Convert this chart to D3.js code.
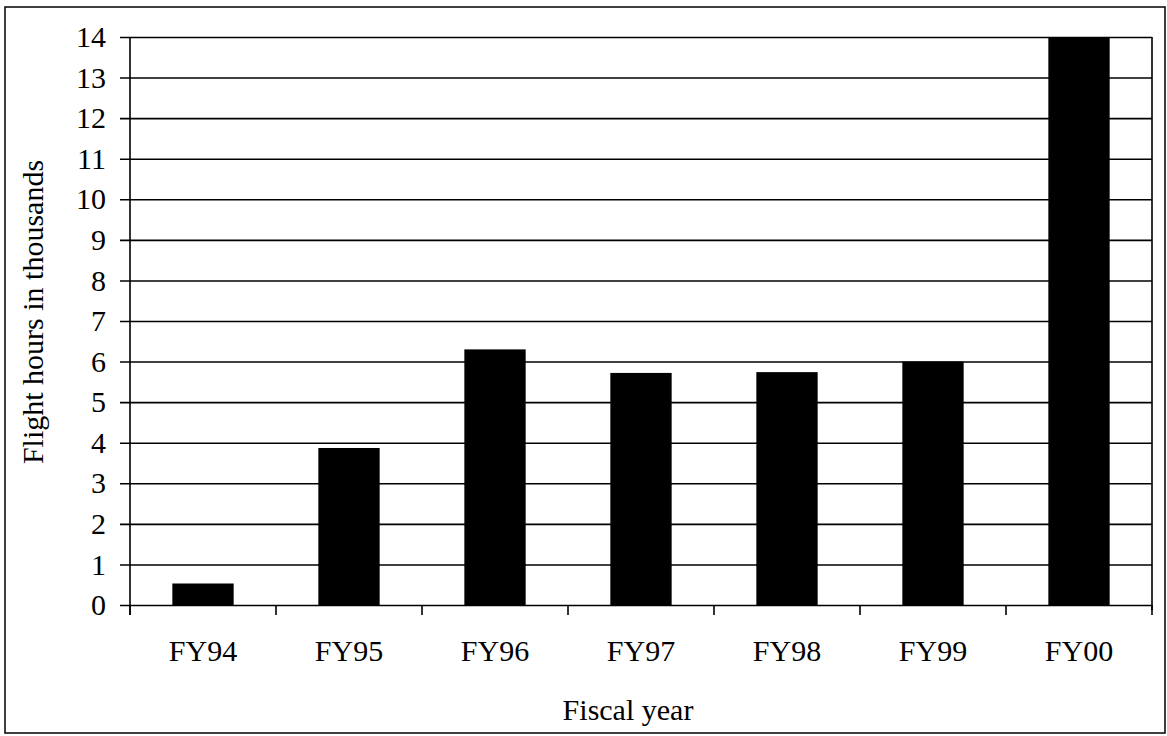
<!DOCTYPE html>
<html lang="en">
<head>
	<meta charset="UTF-8">
	<title>Flight hours</title>
	<style type="text/css">
		body { margin: 0; background: #fff; }
		svg { display: block; }
		text { font-family: "Liberation Serif", "Times New Roman", serif; fill: #000; }
	</style>
</head>
<body>
	<script type="text/javascript" src="https://cdn.jsdelivr.net/npm/d3@7/dist/d3.min.js"></script>
	<script type="text/javascript">
		var years = ['FY94', 'FY95', 'FY96', 'FY97', 'FY98', 'FY99', 'FY00'];
		var hours = [0.53, 3.87, 6.3, 5.72, 5.74, 6.0, 14.0];
		var yTicks = [0, 1, 2, 3, 4, 5, 6, 7, 8, 9, 10, 11, 12, 13, 14];

		var w = 1167;
		var h = 736;
		var plot = {left: 130, right: 1152, top: 37, bottom: 605};

		var svg = d3.select('body')
					.append('svg')
					.attr('width', w)
					.attr('height', h);

		// outer frame
		svg.append('rect')
			.attr('x', 5)
			.attr('y', 7)
			.attr('width', 1160)
			.attr('height', 726)
			.attr('fill', '#fff')
			.attr('stroke', '#000')
			.attr('stroke-width', 1.5);

		var x = d3.scaleBand()
					.domain(years)
					.range([plot.left, plot.right])
					.paddingInner(0.58)
					.paddingOuter(0.29);

		var y = d3.scaleLinear()
					.domain([0, 14])
					.range([plot.bottom, plot.top]);

		// gridlines + y axis
		var yAxis = d3.axisLeft(y)
					.tickValues(yTicks)
					.tickSize(-(plot.right - plot.left))
					.tickPadding(24)
					.tickFormat(d3.format('d'));

		var gy = svg.append('g')
					.attr('transform', 'translate(' + plot.left + ',0)')
					.call(yAxis);
		gy.select('.domain').remove();
		gy.selectAll('.tick line')
			.attr('x1', -10)
			.attr('stroke', '#000')
			.attr('stroke-width', 1.6);
		gy.selectAll('.tick text')
			.attr('font-size', '30px')
			.attr('font-family', '"Liberation Serif", serif');

		// bars
		svg.selectAll('rect.bar')
			.data(hours)
			.enter()
			.append('rect')
			.attr('class', 'bar')
			.attr('x', function (d, i) { return x(years[i]); })
			.attr('y', function (d) { return y(d); })
			.attr('width', x.bandwidth())
			.attr('height', function (d) { return y(0) - y(d); })
			.attr('fill', '#000');

		// left axis line and right border
		svg.append('line')
			.attr('x1', plot.left).attr('x2', plot.left)
			.attr('y1', plot.top).attr('y2', plot.bottom + 10)
			.attr('stroke', '#000').attr('stroke-width', 1.6);
		svg.append('line')
			.attr('x1', plot.right).attr('x2', plot.right)
			.attr('y1', plot.top).attr('y2', plot.bottom + 5)
			.attr('stroke', '#000').attr('stroke-width', 1.6);

		// x category ticks (between bars)
		var step = x.step();
		var xTickPos = d3.range(years.length + 1).map(function (i) { return plot.left + i * step; });
		svg.selectAll('line.xtick')
			.data(xTickPos)
			.enter()
			.append('line')
			.attr('class', 'xtick')
			.attr('x1', function (d) { return d; })
			.attr('x2', function (d) { return d; })
			.attr('y1', plot.bottom)
			.attr('y2', plot.bottom + 10)
			.attr('stroke', '#000')
			.attr('stroke-width', 1.6);

		svg.selectAll('text.xlab')
			.data(years)
			.enter()
			.append('text')
			.attr('class', 'xlab')
			.attr('x', function (d) { return x(d) + x.bandwidth() / 2; })
			.attr('y', 661)
			.attr('text-anchor', 'middle')
			.attr('font-size', '30px')
			.text(function (d) { return d; });

		svg.append('text')
			.attr('x', 628)
			.attr('y', 720)
			.attr('text-anchor', 'middle')
			.attr('font-size', '30px')
			.text('Fiscal year');

		svg.append('text')
			.attr('transform', 'translate(43,312) rotate(-90)')
			.attr('text-anchor', 'middle')
			.attr('font-size', '30px')
			.text('Flight hours in thousands');
	</script>
</body>
</html>
